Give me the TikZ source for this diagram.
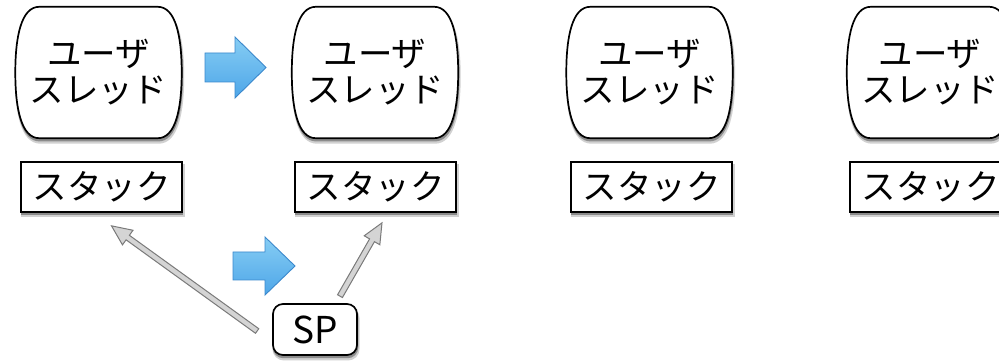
\documentclass[tikz,border=0pt]{standalone}
\usepackage{fontspec}
\setmainfont{Noto Sans CJK JP}
\usetikzlibrary{calc,backgrounds}
\definecolor{bluetop}{HTML}{86CDF4}
\definecolor{bluebot}{HTML}{4EA6E8}
\definecolor{blueedge}{HTML}{3B88CC}
\definecolor{grayfill}{HTML}{D4D4D4}
\definecolor{grayedge}{HTML}{7A7A7A}
\tikzset{
 x=1pt,y=1pt,
 shd/.style={preaction={fill=black!18, draw=black!18, line width=3pt, transform canvas={shift={(1pt,-4pt)}}},
             preaction={fill=black!45, draw=black!45, line width=1.5pt, transform canvas={shift={(0.5pt,-2.5pt)}}}},
 threadbox/.style={minimum width=166pt, minimum height=131pt, inner sep=0pt, align=center, font=\fontsize{34.5}{36}\selectfont},
 threadline/.style={draw=black, line width=1.7pt, fill=white, shd},
 stackbox/.style={draw, line width=1.7pt, fill=white, shd, minimum width=161pt, minimum height=50pt, inner sep=0pt, font=\fontsize{34.5}{38}\selectfont},
 spbox/.style={draw, line width=1.7pt, fill=white, shd, rounded corners=10pt, minimum width=84pt, minimum height=51pt, inner sep=0pt, font=\fontsize{37}{40}\selectfont},
 bluearrow/.style={draw=blueedge, top color=bluetop, bottom color=bluebot, line width=0.9pt, line join=miter},
 grayarrow/.style={draw=grayedge, fill=grayfill, line width=1pt, line join=miter}
}
\newcommand\threadoutline[1]{%
 \draw[threadline] ([xshift=24pt]#1.north west) -- ([xshift=-24pt]#1.north east)
  .. controls ([xshift=-6pt]#1.north east) and ([yshift=36pt]#1.east) .. (#1.east)
  .. controls ([yshift=-36pt]#1.east) and ([xshift=-6pt]#1.south east) .. ([xshift=-24pt]#1.south east)
  -- ([xshift=24pt]#1.south west)
  .. controls ([xshift=6pt]#1.south west) and ([yshift=-36pt]#1.west) .. (#1.west)
  .. controls ([yshift=36pt]#1.west) and ([xshift=6pt]#1.north west) .. cycle;}
\newcommand\hollowarrow[2]{%
 \draw[grayarrow] let \p1=($(#2)-(#1)$), \n1={atan2(\y1,\x1)}, \n2={veclen(\x1,\y1)-20} in
  ($(#1)+(\n1+90:2.8)$) -- ($(#1)+(\n1:\n2)+(\n1+90:2.8)$) -- ($(#1)+(\n1:\n2)+(\n1+90:9)$)
  -- (#2) -- ($(#1)+(\n1:\n2)+(\n1-90:9)$) -- ($(#1)+(\n1:\n2)+(\n1-90:2.8)$)
  -- ($(#1)+(\n1-90:2.8)$) -- cycle;}
\begin{document}
\begin{tikzpicture}
\useasboundingbox (0,0) rectangle (999,-363);
\clip (0,0) rectangle (999,-363);
% threads
\node[threadbox] (t1) at (98.5,-72.5) {ユーザ\\スレッド};
\node[threadbox] (t2) at (375,-72.5) {ユーザ\\スレッド};
\node[threadbox] (t3) at (649.5,-72.5) {ユーザ\\スレッド};
\node[threadbox] (t4) at (930,-72.5) {ユーザ\\スレッド};
\begin{scope}[on background layer]
 \fill[white] (0,0) rectangle (999,-363);
 \threadoutline{t1}
 \threadoutline{t2}
 \threadoutline{t3}
 \threadoutline{t4}
\end{scope}
% stacks
\node[stackbox] (s1) at (101.5,-187) {スタック};
\node[stackbox] (s2) at (375.5,-187) {スタック};
\node[stackbox] (s3) at (651.5,-187) {スタック};
\node[stackbox] (s4) at (930.5,-187) {スタック};
% SP
\node[spbox] (sp) at (315,-329.5) {SP};
% blue arrows
\draw[bluearrow] (205,-53) -- (235,-53) -- (235,-37) -- (266,-67.5) -- (235,-98) -- (235,-82) -- (205,-82) -- cycle;
\draw[bluearrow] (233,-252) -- (265,-252) -- (265,-237) -- (295,-266) -- (265,-295) -- (265,-280) -- (233,-280) -- cycle;
% gray pointer arrows
\coordinate (a1s) at ($(sp.west)+(-15,-1.5)$);
\coordinate (a1e) at ($(s1.south)+(10,-13)$);
\coordinate (a2s) at ($(sp.north)+(25,7)$);
\coordinate (a2e) at ($(s2.south)+(6.5,-10)$);
\hollowarrow{a1s}{a1e}
\hollowarrow{a2s}{a2e}
\end{tikzpicture}
\end{document}
